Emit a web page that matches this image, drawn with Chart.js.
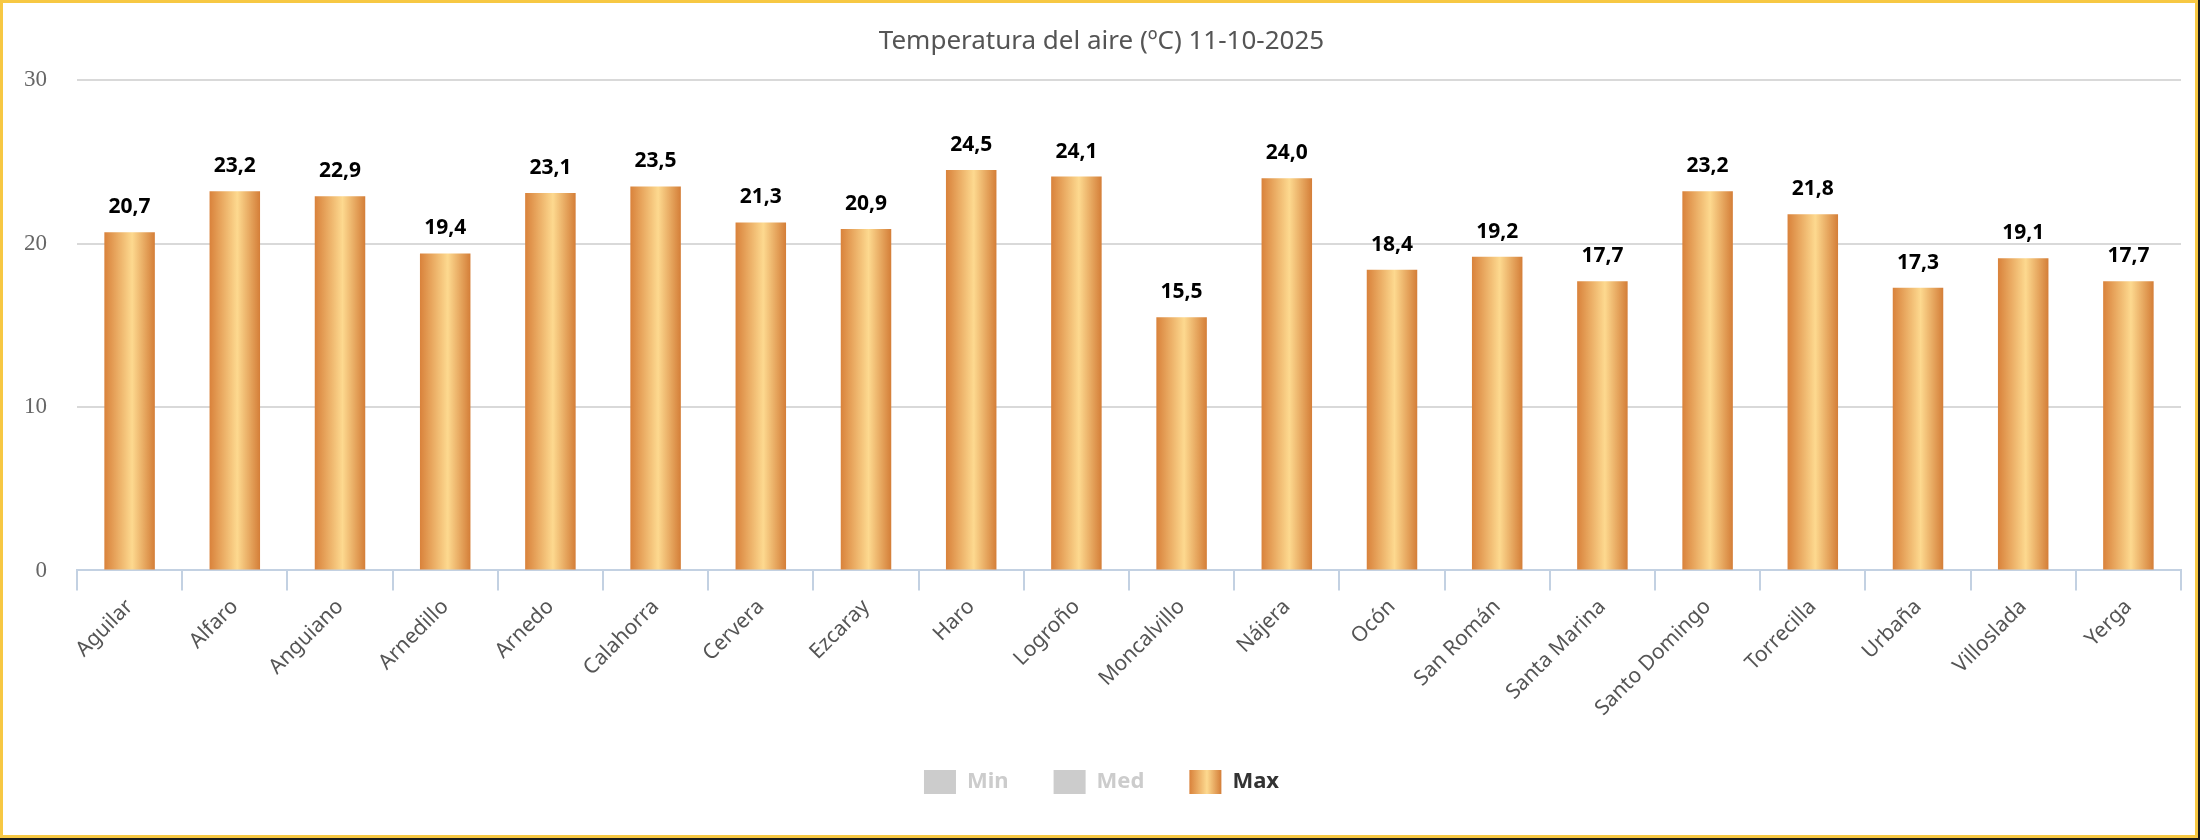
<!DOCTYPE html>
<html>
<head>
<meta charset="utf-8">
<script src="https://cdn.jsdelivr.net/npm/chart.js@4.4.0/dist/chart.umd.min.js"></script>
<style>
html, body { margin: 0; padding: 0; background: #1a1a1a; }
#frame { position: absolute; left: 0; top: 0; width: 2198px; height: 838px; box-sizing: border-box; border: 3px solid #f7c843; background: #fff; }
#frame canvas { display: block; }
</style>
</head>
<body>
<div id="frame"><canvas id="tempChart"></canvas></div>
<script>
// Estaciones y temperaturas máximas (ºC)
const stations = ['Aguilar', 'Alfaro', 'Anguiano', 'Arnedillo', 'Arnedo', 'Calahorra', 'Cervera', 'Ezcaray', 'Haro', 'Logroño',
  'Moncalvillo', 'Nájera', 'Ocón', 'San Román', 'Santa Marina', 'Santo Domingo', 'Torrecilla', 'Urbaña', 'Villoslada', 'Yerga'];
const maxTemps = [20.7, 23.2, 22.9, 19.4, 23.1, 23.5, 21.3, 20.9, 24.5, 24.1,
  15.5, 24.0, 18.4, 19.2, 17.7, 23.2, 21.8, 17.3, 19.1, 17.7];
// Min y Med están ocultas en el gráfico
const minTemps = [];
const medTemps = [];
const yTicks = [0, 10, 20, 30];

const BAR_FRACTION = 0.48;

function barGradient(ctx, left, right) {
  const g = ctx.createLinearGradient(left, 0, right, 0);
  g.addColorStop(0, '#d9823b');
  g.addColorStop(0.55, '#fdd98f');
  g.addColorStop(1, '#d47e38');
  return g;
}

function fmt(v) {
  return v.toFixed(1).replace('.', ',');
}

// etiquetas con el valor encima de cada barra
const valueLabels = {
  id: 'valueLabels',
  afterDatasetsDraw(chart) {
    const ctx = chart.ctx;
    chart.data.datasets.forEach((ds, i) => {
      if (!chart.isDatasetVisible(i)) return;
      const meta = chart.getDatasetMeta(i);
      ctx.save();
      ctx.font = 'bold 21px "Noto Sans"';
      ctx.fillStyle = '#000';
      ctx.textAlign = 'center';
      ctx.textBaseline = 'alphabetic';
      meta.data.forEach((bar, j) => ctx.fillText(fmt(ds.data[j]), bar.x, bar.y - 19));
      ctx.restore();
    });
  }
};

// degradado en el cuadro de la leyenda "Max"
const legendGradient = {
  id: 'legendGradient',
  beforeDraw(chart) {
    const lg = chart.legend;
    if (!lg || !lg.legendHitBoxes) return;
    lg.legendItems.forEach((item, i) => {
      if (chart.isDatasetVisible(item.datasetIndex)) {
        const hb = lg.legendHitBoxes[i];
        item.fillStyle = barGradient(chart.ctx, hb.left, hb.left + lg.options.labels.boxWidth);
      }
    });
  }
};

new Chart(document.getElementById('tempChart'), {
  type: 'bar',
  data: {
    labels: stations,
    datasets: [
      { label: 'Min', data: minTemps, hidden: true, backgroundColor: '#cccccc' },
      { label: 'Med', data: medTemps, hidden: true, backgroundColor: '#cccccc' },
      {
        label: 'Max',
        data: maxTemps,
        backgroundColor: (c) => {
          const chart = c.chart;
          const x = chart.scales.x;
          if (!x || !chart.chartArea || c.type !== 'data') return '#eaa35c';
          const cx = x.getPixelForValue(c.dataIndex);
          const half = x.width / stations.length * BAR_FRACTION / 2;
          return barGradient(chart.ctx, cx - half, cx + half);
        },
        barPercentage: 0.6,
        categoryPercentage: 0.8
      }
    ]
  },
  options: {
    responsive: true,
    maintainAspectRatio: false,
    animation: false,
    layout: { padding: { top: 13, left: 19, right: 14, bottom: 31 } },
    plugins: {
      title: {
        display: true,
        text: 'Temperatura del aire (ºC) 11-10-2025',
        color: '#555',
        font: { family: 'Noto Sans', size: 26, weight: 'normal' },
        padding: { top: 10, bottom: 23 }
      },
      legend: {
        position: 'bottom',
        onClick: null,
        labels: {
          boxWidth: 32,
          boxHeight: 24,
          padding: 45,
          font: { family: 'Noto Sans', size: 22, weight: 'bold' },
          generateLabels: (chart) => chart.data.datasets.map((ds, i) => ({
            text: ds.label,
            datasetIndex: i,
            hidden: false,
            fillStyle: ds.hidden ? '#cccccc' : '#eaa35c',
            strokeStyle: 'rgba(0,0,0,0)',
            lineWidth: 0,
            fontColor: ds.hidden ? '#cccccc' : '#333333'
          }))
        }
      },
      tooltip: { enabled: false }
    },
    scales: {
      x: {
        offset: true,
        grid: { offset: true, drawOnChartArea: false, color: '#c3d1e2', lineWidth: 2, tickLength: 20, tickWidth: 2 },
        border: { color: '#c3d1e2', width: 2 },
        ticks: {
          color: '#555',
          font: { family: 'Noto Sans', size: 21 },
          minRotation: 45,
          maxRotation: 45,
          autoSkip: false,
          padding: 4
        },
        afterFit: (scale) => { scale.paddingLeft = 0; scale.paddingRight = 0; }
      },
      y: {
        min: 0,
        max: 30,
        afterBuildTicks: (axis) => { axis.ticks = yTicks.map(v => ({ value: v })); },
        afterFit: (scale) => { scale.width = 55; },
        grid: { color: '#d9d9d9', lineWidth: 2, drawTicks: false },
        border: { display: false },
        ticks: { color: '#666', font: { family: 'Liberation Serif', size: 23 }, padding: 30 }
      }
    }
  },
  plugins: [valueLabels, legendGradient]
});
</script>
</body>
</html>
